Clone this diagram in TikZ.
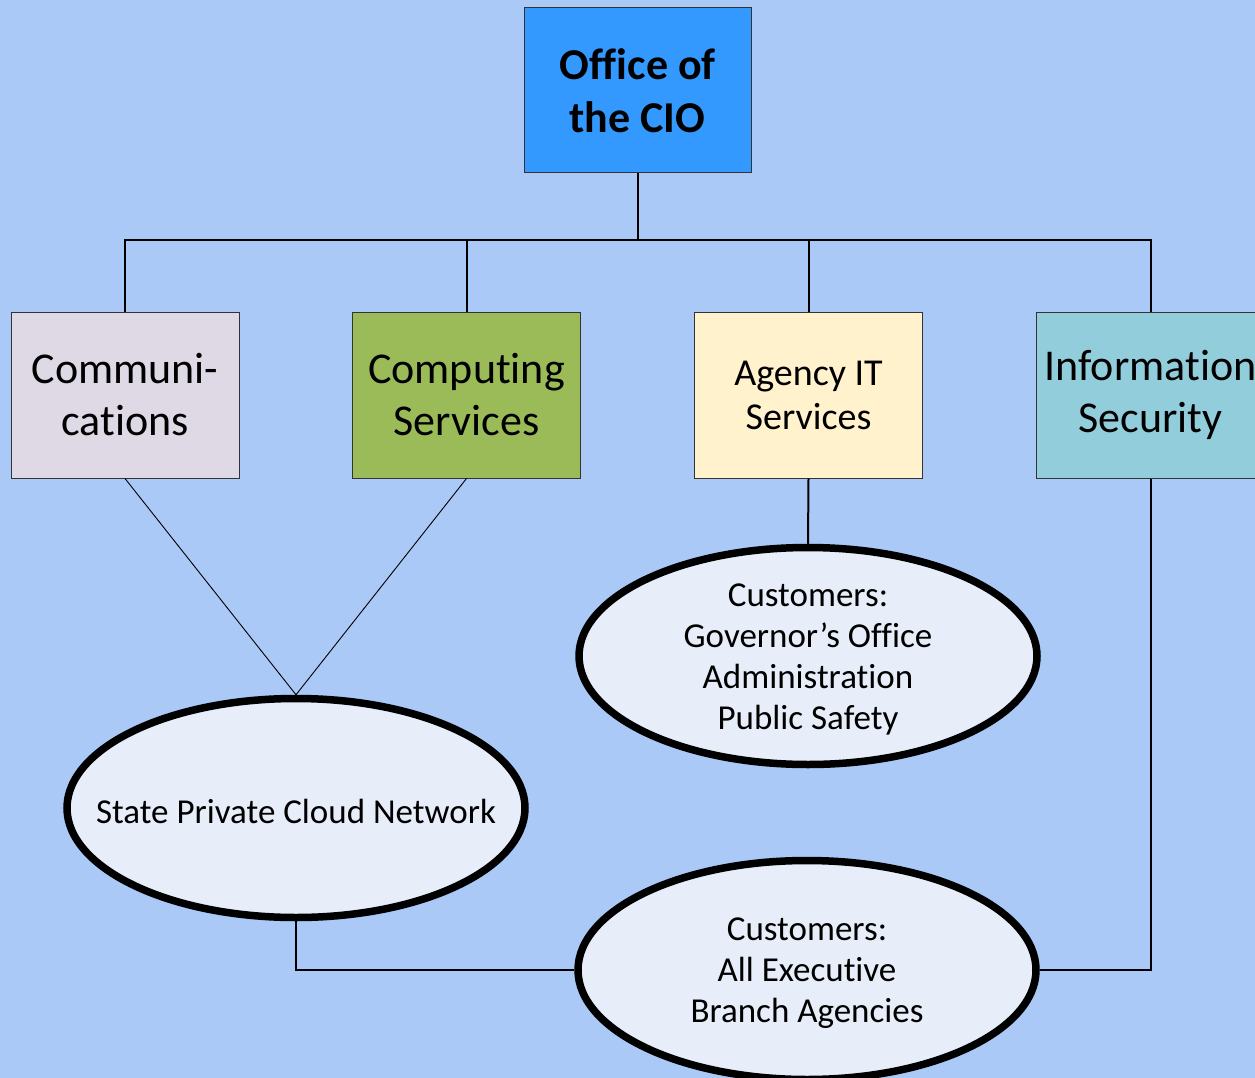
\documentclass[tikz,border=0pt]{standalone}
\usepackage{fontspec}
\setmainfont{Carlito}[Ligatures={NoCommon}]
\usetikzlibrary{shapes.geometric}
\definecolor{bg}{HTML}{AAC9F6}
\definecolor{cio}{HTML}{3399FF}
\definecolor{comm}{HTML}{DFD9E6}
\definecolor{comp}{HTML}{9BBB59}
\definecolor{agency}{HTML}{FFF2CC}
\definecolor{infosec}{HTML}{92CDDC}
\definecolor{ellfill}{HTML}{E7EEF9}
\begin{document}
\begin{tikzpicture}[x=1pt,y=-1pt,
  unitbox/.style={draw=black!80, line width=1pt, minimum width=228pt, minimum height=166pt, inner sep=0pt, align=center},
  bigtext/.style={font=\fontsize{44}{52}\selectfont},
  custell/.style={ellipse, draw=black, line width=7.5pt, fill=ellfill, minimum width=458pt, minimum height=217pt, inner sep=0pt},
  custtext/.style={align=center, inner sep=0pt, yshift=-3.5pt, font=\fontsize{35}{41}\selectfont},
  tree/.style={line width=2pt, black},
  thin/.style={line width=0.9pt, black}]
\fill[bg] (0,0) rectangle (1255,1078);
\useasboundingbox (0,0) rectangle (1255,1078);
\clip (0,0) rectangle (1255,1078);
\node[unitbox, fill=cio, minimum width=227pt, minimum height=165pt, font=\bfseries\fontsize{44}{53}\selectfont] (cio) at (637.5,90.5) {Office of\\the CIO};
\node[unitbox, fill=comm, bigtext] (comm) at (125,395) {Communi-\\cations};
\node[unitbox, fill=comp, bigtext] (comp) at (466.5,395) {Computing\\Services};
\node[unitbox, fill=agency, font=\fontsize{38}{44}\selectfont] (agency) at (808.5,395) {Agency IT\\Services};
\node[unitbox, fill=infosec, bigtext] (infosec) at (1150.5,395) {Information\\Security};
\node[custell, label={[custtext]center:Customers:\\Governor’s Office\\Administration\\Public Safety}] (gov) at (808,656) {};
\node[custell, minimum height=219pt, label={[custtext]center:State Private Cloud Network}] (cloud) at (296,808) {};
\node[custell, minimum height=219pt, label={[custtext]center:Customers:\\All Executive\\Branch Agencies}] (allexec) at (807,970) {};
\coordinate (bus) at (637.5,240);
\draw[tree] (cio.south) -- (bus);
\draw[tree] (comm.north) |- (bus) -| (infosec.north);
\draw[tree] (comp.north) -- (comp.north |- bus);
\draw[tree] (agency.north) -- (agency.north |- bus);
\draw[tree] (agency.south) -- (gov.north);
\draw[thin] (comm.south) -- (cloud.north);
\draw[thin] (comp.south) -- (cloud.north);
\draw[tree] (cloud.south) |- (allexec.west);
\draw[tree] (infosec.south) |- (allexec.east);
\end{tikzpicture}
\end{document}
